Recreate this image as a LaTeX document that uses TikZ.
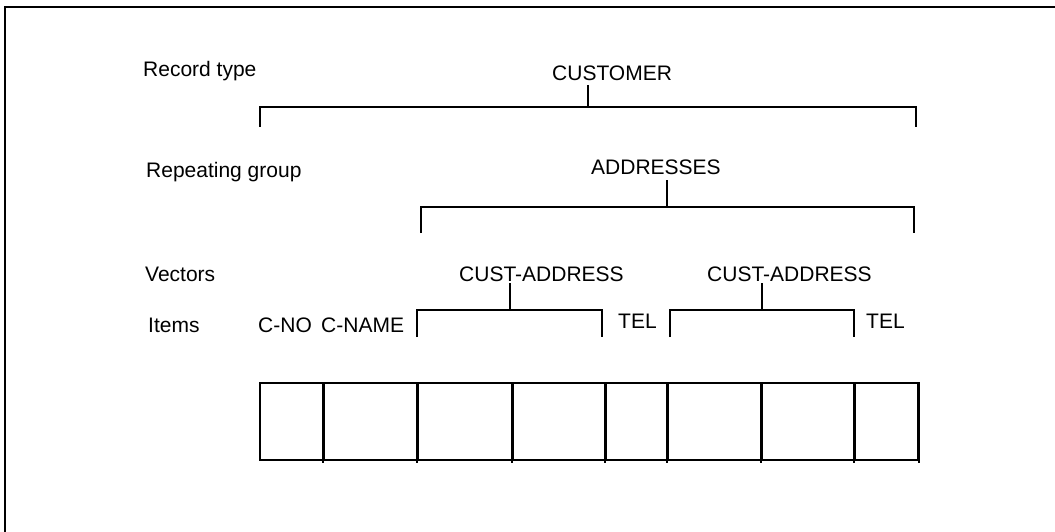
\documentclass[tikz,border=0pt]{standalone}
\usepackage{fontspec}
\setmainfont{Liberation Sans}
\begin{document}
\begin{tikzpicture}[x=1pt,y=-1pt,
  lbl/.style={inner sep=0pt,anchor=base west,font=\fontsize{21}{25}\selectfont},
  brk/.style={line width=1.7pt,line cap=butt},
  cellbox/.style={draw,line width=1.9pt,rectangle,inner sep=0pt,anchor=north west,minimum height=77pt}]
\useasboundingbox (0,0) rectangle (1055,532);
% frame (top and left only)
\draw[line width=1.3pt] (5,532) -- (5,7) -- (1055,7);
% labels
\node[lbl] (rt)  at (143,77)  {Record type};
\node[lbl] (rg)  at (146,177) {Repeating group};
\node[lbl] (vec) at (145,281) {Vectors};
\node[lbl] (itm) at (148,332) {Items};
\node[lbl] (cust) at (552,81) {CUSTOMER};
\node[lbl] (addr) at (591,175) {ADDRESSES};
\node[lbl] (ca1) at (459,281) {CUST-ADDRESS};
\node[lbl] (ca2) at (707,281) {CUST-ADDRESS};
\node[lbl] (cno) at (258,332) {C-NO};
\node[lbl] (cname) at (321,332) {C-NAME};
\node[lbl] (tel1) at (618,328) {TEL};
\node[lbl] (tel2) at (866,328) {TEL};
% bracket coordinates
\coordinate (custT) at (588,85);
\coordinate (custL) at (260,127); \coordinate (custR) at (916,127);
\coordinate (addrT) at (667,180);
\coordinate (addrL) at (421,233); \coordinate (addrR) at (914,233);
\coordinate (ca1T) at (510,283);
\coordinate (ca1L) at (417,337); \coordinate (ca1R) at (602,337);
\coordinate (ca2T) at (762,283);
\coordinate (ca2L) at (670,337); \coordinate (ca2R) at (854,337);
% brackets
\draw[brk] (custL) -- (260,107) -- (916,107) -- (custR);
\draw[brk] (custT) -- (588,107);
\draw[brk] (addrL) -- (421,207) -- (914,207) -- (addrR);
\draw[brk] (addrT) -- (667,207);
\draw[brk] (ca1L) -- (417,310) -- (602,310) -- (ca1R);
\draw[brk] (ca1T) -- (510,310);
\draw[brk] (ca2L) -- (670,310) -- (854,310) -- (ca2R);
\draw[brk] (ca2T) -- (762,310);
% record cells
\node[cellbox,minimum width=64pt] (c1) at (259,382) {};
\node[cellbox,minimum width=94pt] (c2) at (323,382) {};
\node[cellbox,minimum width=95pt] (c3) at (417,382) {};
\node[cellbox,minimum width=93pt] (c4) at (512,382) {};
\node[cellbox,minimum width=62pt] (c5) at (605,382) {};
\node[cellbox,minimum width=94pt] (c6) at (667,382) {};
\node[cellbox,minimum width=93pt] (c7) at (761,382) {};
\node[cellbox,minimum width=63pt] (c8) at (854,382) {};
\foreach \c in {c2,c3,c4,c5,c6,c7,c8}
  \draw[line width=1.9pt] (\c.north west) -- ([yshift=-2.5pt]\c.south west);
\draw[line width=2.3pt] (c8.north east) -- ([yshift=-2.5pt]c8.south east);
\end{tikzpicture}
\end{document}
